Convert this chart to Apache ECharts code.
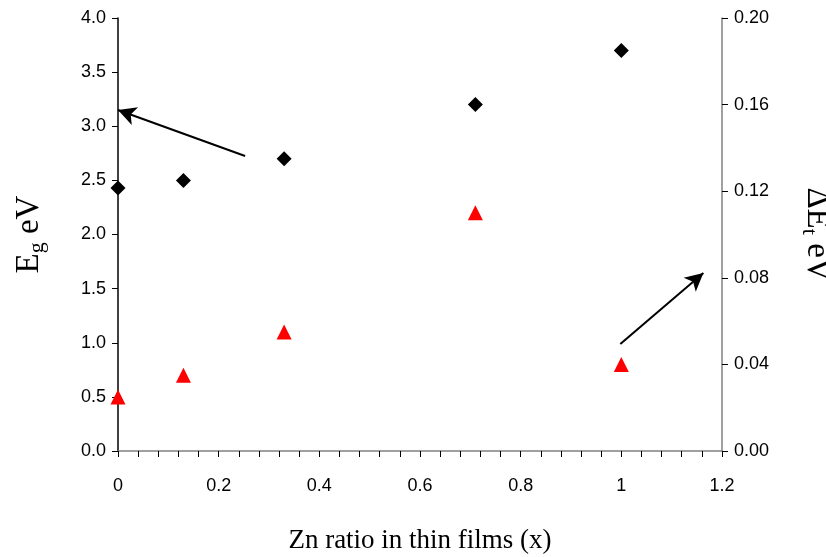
<!DOCTYPE html>
<html><head><meta charset="utf-8">
<script src="https://cdn.jsdelivr.net/npm/echarts@6/dist/echarts.min.js"></script>
<style>html,body{margin:0;padding:0;background:#fff}#c{width:826px;height:557px}</style>
</head><body><div id="c"></div>
<script>
const znRatio = [0, 0.13, 0.33, 0.71, 1];
const egValues = [2.43, 2.50, 2.70, 3.20, 3.70];
const deltaEtValues = [0.025, 0.035, 0.055, 0.110, 0.040];
const arrowToLeft = [[0.2525, 2.725], [0.0, 3.15]];
const arrowToRight = [[0.998, 0.988], [1.163, 1.644]];

const chart = echarts.init(document.getElementById('c'));
const tickFont = {fontFamily: 'Liberation Sans, Arial', fontSize: 18, color: '#000'};
chart.setOption({
  animation: false,
  grid: {left: 118, right: 104, top: 18, bottom: 106, containLabel: false, outerBoundsMode: 'none'},
  xAxis: {
    type: 'value', min: 0, max: 1.2, interval: 0.2,
    name: 'Zn ratio in thin films (x)', nameLocation: 'middle', nameGap: 76,
    nameTextStyle: {fontFamily: 'Liberation Serif, Times New Roman', fontSize: 27, color: '#000'},
    axisLine: {onZero: false, lineStyle: {color: '#808080', width: 1.5}},
    axisTick: {show: true, length: 6, lineStyle: {color: '#000'}},
    minorTick: {show: true, splitNumber: 5, length: 6, lineStyle: {color: '#000'}},
    splitLine: {show: false},
    axisLabel: Object.assign({margin: 26, formatter: v => (v === 0 || v === 1) ? String(v) : v.toFixed(1)}, tickFont)
  },
  yAxis: [{
    type: 'value', min: 0, max: 4, interval: 0.5, position: 'left',
    name: '{a|E}{s|g}{a| eV}', nameLocation: 'middle', nameGap: 70, nameRotate: 90,
    nameTextStyle: {rich: {
      a: {fontFamily: 'Liberation Serif, Times New Roman', fontSize: 33, color: '#000'},
      s: {fontFamily: 'Liberation Serif, Times New Roman', fontSize: 22, color: '#000', padding: [16, 0, 0, 0]}
    }},
    axisLine: {show: true, lineStyle: {color: '#000', width: 1.5}},
    axisTick: {show: true, length: 6, lineStyle: {color: '#000'}},
    splitLine: {show: false},
    axisLabel: Object.assign({margin: 12, formatter: v => v.toFixed(1)}, tickFont)
  }, {
    type: 'value', min: 0, max: 0.2, interval: 0.04, position: 'right',
    name: '{a|ΔE}{s|t}{a| eV}', nameLocation: 'middle', nameGap: 76, nameRotate: -90,
    nameTextStyle: {rich: {
      a: {fontFamily: 'Liberation Serif, Times New Roman', fontSize: 33, color: '#000'},
      s: {fontFamily: 'Liberation Serif, Times New Roman', fontSize: 22, color: '#000', padding: [16, 0, 0, 0]}
    }},
    axisLine: {show: true, lineStyle: {color: '#808080', width: 1.5}},
    axisTick: {show: true, length: 6, inside: false, lineStyle: {color: '#000'}},
    splitLine: {show: false},
    axisLabel: Object.assign({margin: 12, formatter: v => v.toFixed(2)}, tickFont)
  }],
  series: [{
    type: 'scatter', yAxisIndex: 0, symbol: 'diamond', symbolSize: 15,
    itemStyle: {color: '#000', opacity: 1},
    data: znRatio.map((x, i) => [x, egValues[i]]),
    markLine: {
      silent: true, symbol: ['none', 'arrow'], symbolSize: [14, 18],
      label: {show: false},
      lineStyle: {color: '#000', width: 2, type: 'solid', opacity: 1},
      data: [
        [{coord: arrowToLeft[0]}, {coord: arrowToLeft[1]}],
        [{coord: arrowToRight[0]}, {coord: arrowToRight[1]}]
      ]
    }
  }, {
    type: 'scatter', yAxisIndex: 1, symbol: 'triangle', symbolSize: 15,
    itemStyle: {color: '#ff0000', opacity: 1},
    data: znRatio.map((x, i) => [x, deltaEtValues[i]])
  }]
});
</script></body></html>
